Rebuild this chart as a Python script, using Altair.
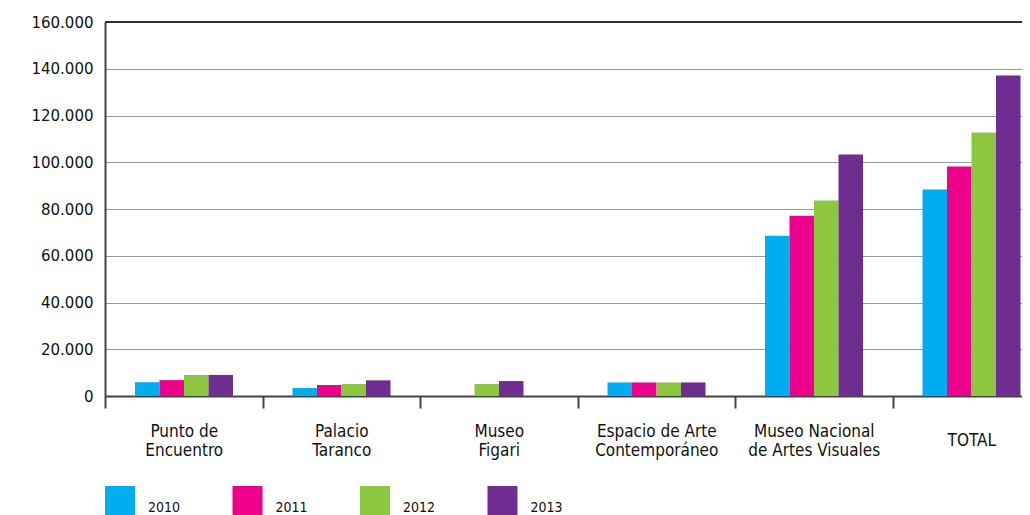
import altair as alt
import pandas as pd

categories = ["Punto de|Encuentro", "Palacio|Taranco", "Museo|Figari",
              "Espacio de Arte|Contemporáneo", "Museo Nacional|de Artes Visuales", "TOTAL"]
years = ["2010", "2011", "2012", "2013"]
v2010 = [5900, 3400, None, 5800, 68600, 88300]
v2011 = [6800, 4700, None, 5800, 77100, 98200]
v2012 = [9000, 5100, 5100, 5800, 83600, 112700]
v2013 = [9000, 6700, 6400, 5800, 103300, 137100]
colors = ["#00AEEF", "#EC008C", "#8DC63F", "#6F2C91"]
y_ticks = [0, 20000, 40000, 60000, 80000, 100000, 120000, 140000, 160000]

series = [v2010, v2011, v2012, v2013]
rows = []
for ci, c in enumerate(categories):
    present = [(yr, vals[ci]) for yr, vals in zip(years, series) if vals[ci] is not None]
    shift = (len(years) - len(present)) // 2
    for k, (yr, v) in enumerate(present):
        idx = years.index(yr) if len(present) == len(years) else k + shift
        rows.append({"category": c, "year": yr, "value": v, "slot": idx})
df = pd.DataFrame(rows)

cond_font = "Liberation Sans Narrow, DejaVu Sans Condensed, Roboto Condensed, sans-serif"

bars = alt.Chart(df).mark_bar().encode(
    x=alt.X("category:N", sort=categories,
            scale=alt.Scale(range=[0, 945], paddingInner=0, paddingOuter=0),
            axis=alt.Axis(title=None, labelExpr="split(datum.label, '|')", labelAngle=0,
                          tickBand="extent", tickSize=12, tickColor="#444", tickWidth=2,
                          domainColor="#444", domainWidth=2, labelFont=cond_font,
                          labelFontSize=17, labelLineHeight=19, labelBaseline="middle",
                          labelPadding={"condition": {"test": "datum.label == 'TOTAL'", "value": 32},
                                        "value": 23},
                          labelColor="#111")),
    xOffset=alt.XOffset("slot:O", scale=alt.Scale(domain=[0, 1, 2, 3], range=[30, 128],
                                                  paddingInner=0, paddingOuter=0)),
    y=alt.Y("value:Q", scale=alt.Scale(domain=[0, 160000], nice=False),
            axis=alt.Axis(values=y_ticks, title=None, ticks=False,
                          labelExpr="datum.value == 0 ? '0' : format(datum.value / 1000, 'd') + '.000'",
                          gridDash=[1, 1], gridColor="#333", domainColor="#444", domainWidth=2,
                          labelPadding=12, labelFontSize=15, labelFont="DejaVu Sans",
                          labelColor="#111")),
    color=alt.Color("year:N", scale=alt.Scale(domain=years, range=colors),
                    legend=alt.Legend(title=None, orient="none", legendX=0, legendY=464,
                                      direction="horizontal", columns=4, columnPadding=51.5,
                                      symbolType="square", symbolSize=900, symbolStrokeWidth=0,
                                      symbolOpacity=1, labelFont=cond_font, labelFontSize=14,
                                      labelOffset=13, labelColor="#111", labelBaseline="top",
                                      labelFontWeight="normal")),
)

top_rule = alt.Chart(df).mark_rule(color="#333", strokeWidth=1.5).encode(y=alt.datum(160000))

chart = alt.layer(bars, top_rule).properties(
    width=917, height=374,
    autosize=alt.AutoSizeParams(type="none"),
    padding={"left": 97, "top": 14, "right": 0, "bottom": 120},
).configure_view(stroke=None)

chart.save("out.html", embed_options={"renderer": "svg", "actions": False})
